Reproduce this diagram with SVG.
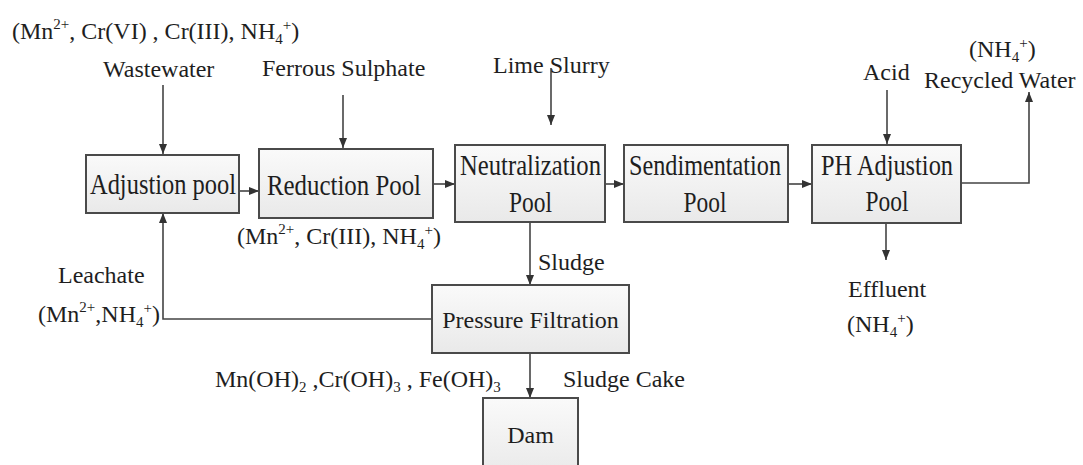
<svg xmlns="http://www.w3.org/2000/svg" width="1083" height="465" viewBox="0 0 1083 465">
<style>
.box{fill:url(#g);stroke:#4a4a4a;stroke-width:2}
.t{font-family:"Liberation Serif","Times New Roman",serif;font-size:24px;fill:#1e1e1e}
.b{font-size:30px;text-anchor:middle}
.m{text-anchor:middle}
.s{font-size:15px}
.c{stroke:#444;stroke-width:1.6;fill:none}
.a{marker-end:url(#arr)}
</style>
<defs>
<linearGradient id="g" x1="0" y1="0" x2="0" y2="1">
<stop offset="0" stop-color="#fafafa"/>
<stop offset="1" stop-color="#e9e9e9"/>
</linearGradient>
<marker id="arr" markerUnits="userSpaceOnUse" markerWidth="10" markerHeight="8" refX="10" refY="4" orient="auto">
<path d="M0,0 L10,4 L0,8 z" fill="#333"/>
</marker>
</defs>

<g id="connectors">
<line class="c a" x1="163" y1="85" x2="163" y2="154"/>
<line class="c a" x1="343" y1="95" x2="343" y2="148"/>
<line class="c a" x1="551" y1="68" x2="551" y2="125"/>
<line class="c a" x1="887" y1="90" x2="887" y2="144"/>
<line class="c a" x1="239" y1="191" x2="259" y2="191"/>
<line class="c a" x1="433" y1="184" x2="455" y2="184"/>
<line class="c a" x1="605" y1="184" x2="624" y2="184"/>
<line class="c a" x1="788" y1="184" x2="812" y2="184"/>
<polyline class="c a" points="961,183 1029,183 1029,92"/>
<line class="c a" x1="530" y1="222" x2="530" y2="285"/>
<polyline class="c a" points="432,319 163,319 163,213"/>
<line class="c a" x1="530" y1="353" x2="530" y2="398"/>
<line class="c a" x1="886" y1="223" x2="886" y2="260"/>
</g>

<g id="adjustion-pool">
<rect class="box" x="86" y="155" width="153" height="58"/>
<text class="t b" x="163" y="194" textLength="146" lengthAdjust="spacingAndGlyphs">Adjustion pool</text>
</g>
<g id="reduction-pool">
<rect class="box" x="259" y="149" width="174" height="69"/>
<text class="t b" x="344" y="195" textLength="154" lengthAdjust="spacingAndGlyphs">Reduction Pool</text>
</g>
<g id="neutralization-pool">
<rect class="box" x="455" y="145" width="150" height="77"/>
<text class="t b" x="530.5" y="175" textLength="141" lengthAdjust="spacingAndGlyphs">Neutralization</text>
<text class="t b" x="530.5" y="212" textLength="43" lengthAdjust="spacingAndGlyphs">Pool</text>
</g>
<g id="sendimentation-pool">
<rect class="box" x="624" y="145" width="164" height="77"/>
<text class="t b" x="705" y="175" textLength="152" lengthAdjust="spacingAndGlyphs">Sendimentation</text>
<text class="t b" x="705" y="212" textLength="43" lengthAdjust="spacingAndGlyphs">Pool</text>
</g>
<g id="ph-adjustion-pool">
<rect class="box" x="812" y="145" width="149" height="78"/>
<text class="t b" x="887" y="175" textLength="132" lengthAdjust="spacingAndGlyphs">PH Adjustion</text>
<text class="t b" x="887" y="211" textLength="43" lengthAdjust="spacingAndGlyphs">Pool</text>
</g>
<g id="pressure-filtration">
<rect class="box" x="432" y="285" width="197" height="68"/>
<text class="t m" x="530.5" y="328">Pressure Filtration</text>
</g>
<g id="dam">
<rect class="box" x="483" y="398" width="95" height="80"/>
<text class="t m" x="530.5" y="443">Dam</text>
</g>

<g id="labels">
<text class="t" x="12" y="39">(Mn<tspan class="s" dy="-10">2+</tspan><tspan dy="10">, Cr(VI) , Cr(III), NH</tspan><tspan class="s" dy="5">4</tspan><tspan class="s" dy="-14">+</tspan><tspan dy="9">)</tspan></text>
<text class="t" x="103" y="77">Wastewater</text>
<text class="t" x="262" y="76">Ferrous Sulphate</text>
<text class="t" x="493" y="73">Lime Slurry</text>
<text class="t" x="863" y="80">Acid</text>
<text class="t" x="969" y="57">(NH<tspan class="s" dy="5">4</tspan><tspan class="s" dy="-14">+</tspan><tspan dy="9">)</tspan></text>
<text class="t" x="924" y="88">Recycled Water</text>
<text class="t" x="237" y="244">(Mn<tspan class="s" dy="-10">2+</tspan><tspan dy="10">, Cr(III), NH</tspan><tspan class="s" dy="5">4</tspan><tspan class="s" dy="-14">+</tspan><tspan dy="9">)</tspan></text>
<text class="t" x="538" y="270">Sludge</text>
<text class="t" x="58" y="283">Leachate</text>
<text class="t" x="38" y="322">(Mn<tspan class="s" dy="-10">2+</tspan><tspan dy="10">,NH</tspan><tspan class="s" dy="5">4</tspan><tspan class="s" dy="-14">+</tspan><tspan dy="9">)</tspan></text>
<text class="t" x="215" y="387">Mn(OH)<tspan class="s" dy="5">2</tspan><tspan dy="-5"> ,Cr(OH)</tspan><tspan class="s" dy="5">3</tspan><tspan dy="-5"> , Fe(OH)</tspan><tspan class="s" dy="5">3</tspan></text>
<text class="t" x="563" y="387">Sludge Cake</text>
<text class="t" x="848" y="297">Effluent</text>
<text class="t" x="847" y="332">(NH<tspan class="s" dy="5">4</tspan><tspan class="s" dy="-14">+</tspan><tspan dy="9">)</tspan></text>
</g>
</svg>
